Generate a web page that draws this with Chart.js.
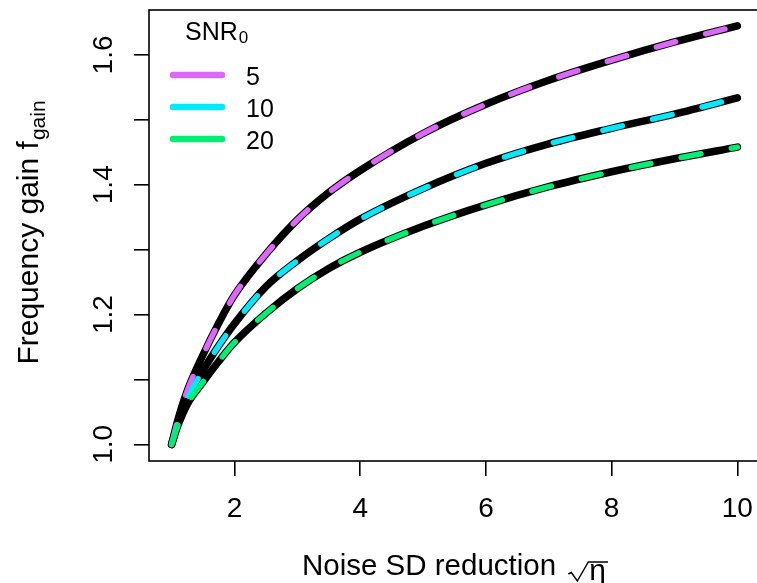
<!DOCTYPE html>
<html>
<head>
<meta charset="utf-8">
<script src="https://cdn.jsdelivr.net/npm/chart.js@4.4.1/dist/chart.umd.min.js"></script>
<style>
  html, body { margin: 0; padding: 0; background: #fff; overflow: hidden; }
  #wrap { width: 757px; height: 583px; overflow: hidden; }
  canvas { display: block; }
</style>
</head>
<body>
<div id="wrap"><canvas id="gain" width="760" height="583"></canvas></div>
<script>
// noise SD reduction sqrt(eta) and the resulting frequency gain for each SNR0
const eta = [1, 1.1, 1.25, 1.5, 1.75, 2, 2.5, 3, 3.5, 4, 5, 6, 7, 8, 9, 10];
const gainSnr5  = [1.0, 1.038, 1.083, 1.138, 1.187, 1.230, 1.293, 1.346, 1.388, 1.422, 1.479, 1.524, 1.561, 1.592, 1.620, 1.645];
const gainSnr10 = [1.0, 1.032, 1.070, 1.114, 1.152, 1.186, 1.243, 1.283, 1.317, 1.347, 1.394, 1.433, 1.463, 1.487, 1.509, 1.534];
const gainSnr20 = [1.0, 1.029, 1.062, 1.096, 1.128, 1.157, 1.202, 1.240, 1.271, 1.296, 1.336, 1.369, 1.397, 1.420, 1.440, 1.458];

const snrLabels = ['5', '10', '20'];
const snrColors = ['#DD67F8', '#00EAFF', '#00EE76'];

const xTicks = [2, 4, 6, 8, 10];
const yTicks = [1.0, 1.1, 1.2, 1.3, 1.4, 1.5, 1.6];
const yLabels = [1.0, 1.2, 1.4, 1.6];

const FONT = '"Liberation Sans", Arial, Helvetica, sans-serif';

const series = [gainSnr5, gainSnr10, gainSnr20];
const toPoints = ys => eta.map((x, i) => ({ x: x, y: ys[i] }));

const lineBase = {
    pointRadius: 0,
    fill: false,
    cubicInterpolationMode: 'monotone',
    borderCapStyle: 'round',
    borderJoinStyle: 'round'
};

const datasets = [];
// thick black curves underneath
series.forEach((ys, i) => {
    datasets.push(Object.assign({}, lineBase, {
        label: 'black' + i,
        data: toPoints(ys),
        borderColor: '#000',
        borderWidth: 7.5,
        order: 10
    }));
});
// coloured dashes on top
series.forEach((ys, i) => {
    datasets.push(Object.assign({}, lineBase, {
        label: snrLabels[i],
        data: toPoints(ys),
        borderColor: snrColors[i],
        borderWidth: 5.5,
        borderDash: [20, 31],
        order: 3 - i
    }));
});

function drawRotated(ctx, x, y, fn) {
    ctx.save();
    ctx.translate(x, y);
    ctx.rotate(-Math.PI / 2);
    fn();
    ctx.restore();
}

const extras = {
    id: 'extras',
    afterDraw(chart) {
        const ctx = chart.ctx;
        const area = chart.chartArea;
        const ys = chart.scales.y;
        ctx.save();

        // plot box
        ctx.strokeStyle = '#000';
        ctx.lineWidth = 1.6;
        ctx.strokeRect(area.left, area.top, area.right - area.left, area.bottom - area.top);

        // y tick labels, parallel to the axis
        ctx.fillStyle = '#000';
        ctx.font = '28px ' + FONT;
        ctx.textAlign = 'center';
        ctx.textBaseline = 'alphabetic';
        yLabels.forEach(v => {
            const py = ys.getPixelForValue(v);
            drawRotated(ctx, 112, py, () => ctx.fillText(v.toFixed(1), 0, 0));
        });

        // x axis title: Noise SD reduction sqrt(eta)
        const xTitle = 'Noise SD reduction ';
        ctx.font = '29.5px ' + FONT;
        const wText = ctx.measureText(xTitle).width;
        ctx.font = '30px ' + FONT;
        const wEta = ctx.measureText('\u03b7').width;
        const wRad = 20;
        const total = wText + 4 + wRad + wEta + 3;
        const cx = 455;
        const bx = cx - total / 2;
        const by = 575;
        ctx.textAlign = 'left';
        ctx.font = '29.5px ' + FONT;
        ctx.fillText(xTitle, bx, by);
        const r0 = bx + wText + 4;
        ctx.lineWidth = 1.4;
        ctx.lineJoin = 'miter';
        ctx.beginPath();
        ctx.moveTo(r0, by - 1);
        ctx.lineTo(r0 + 3, by - 2.5);
        ctx.lineTo(r0 + 9, by + 6);
        ctx.lineTo(r0 + wRad, by - 13);
        ctx.lineTo(r0 + wRad + wEta + 3, by - 13);
        ctx.stroke();
        ctx.font = '30px ' + FONT;
        ctx.fillText('\u03b7', r0 + wRad + 1, by + 5);

        // y axis title: Frequency gain f_gain
        const yMain = 'Frequency gain f';
        const ySub = 'gain';
        ctx.font = '30px ' + FONT;
        const wMain = ctx.measureText(yMain).width;
        ctx.font = '21px ' + FONT;
        const wSub = ctx.measureText(ySub).width;
        const cy = 233;
        drawRotated(ctx, 38, cy, () => {
            const sx = -(wMain + wSub) / 2;
            ctx.textAlign = 'left';
            ctx.font = '30px ' + FONT;
            ctx.fillText(yMain, sx, 0);
            ctx.font = '21px ' + FONT;
            ctx.fillText(ySub, sx + wMain + 1, 7);
        });

        // legend
        ctx.textAlign = 'left';
        ctx.font = '25px ' + FONT;
        ctx.fillText('SNR', 185, 40);
        const wSnr = ctx.measureText('SNR').width;
        ctx.font = '17px ' + FONT;
        ctx.fillText('0', 185 + wSnr + 1, 43);

        ctx.lineCap = 'round';
        ctx.lineWidth = 6.5;
        snrLabels.forEach((lab, i) => {
            const ly = 75 + i * 32;
            ctx.strokeStyle = snrColors[i];
            ctx.beginPath();
            ctx.moveTo(173, ly);
            ctx.lineTo(222, ly);
            ctx.stroke();
            ctx.font = '25px ' + FONT;
            ctx.fillStyle = '#000';
            ctx.fillText(lab, 246, ly + 9.5);
        });

        ctx.restore();
    }
};

const noSidePadding = s => { s.paddingLeft = 0; s.paddingRight = 0; s.paddingTop = 0; s.paddingBottom = 0; };

new Chart(document.getElementById('gain'), {
    type: 'line',
    data: { datasets: datasets },
    options: {
        responsive: false,
        devicePixelRatio: 1,
        animation: false,
        layout: { padding: { top: 10, left: 0, right: 0, bottom: 0 } },
        plugins: {
            legend: { display: false },
            tooltip: { enabled: false }
        },
        scales: {
            x: {
                type: 'linear',
                min: 0.64,
                max: 10.36,
                afterBuildTicks: s => { s.ticks = xTicks.map(v => ({ value: v })); },
                afterFit: s => { s.height = 122; noSidePadding(s); },
                border: { display: false },
                grid: { drawOnChartArea: false, tickLength: 15, color: '#000', lineWidth: 1.6 },
                ticks: {
                    color: '#000',
                    font: { family: FONT, size: 28 },
                    padding: 16,
                    maxRotation: 0,
                    autoSkip: false,
                    callback: v => String(v)
                }
            },
            y: {
                type: 'linear',
                min: 0.9743,
                max: 1.6693,
                afterBuildTicks: s => { s.ticks = yTicks.map(v => ({ value: v })); },
                afterFit: s => { s.width = 149; noSidePadding(s); },
                border: { display: false },
                grid: { drawOnChartArea: false, tickLength: 15, color: '#000', lineWidth: 1.6 },
                ticks: { display: false }
            }
        }
    },
    plugins: [extras]
});
</script>
</body>
</html>
